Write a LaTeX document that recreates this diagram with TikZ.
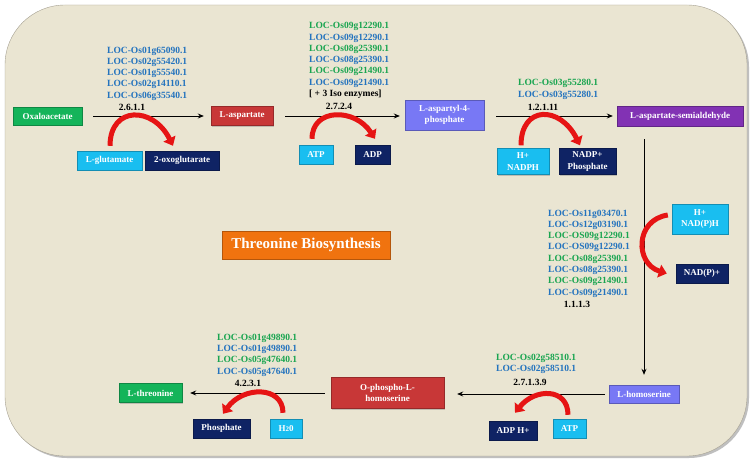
\documentclass[tikz,border=0pt]{standalone}
\usepackage{fontspec}
\setmainfont{Liberation Serif}
\usetikzlibrary{arrows.meta,shadows}

\definecolor{bgbeige}{RGB}{234,229,210}
\definecolor{bgedge}{RGB}{165,160,145}
\definecolor{locgreen}{RGB}{25,165,80}
\definecolor{locblue}{RGB}{35,115,190}
\definecolor{cgreen}{RGB}{20,180,90}
\definecolor{cred}{RGB}{200,55,55}
\definecolor{ccyan}{RGB}{25,190,240}
\definecolor{cnavy}{RGB}{15,35,100}
\definecolor{cperi}{RGB}{120,120,245}
\definecolor{cpurple}{RGB}{130,50,180}
\definecolor{corange}{RGB}{240,115,15}
\definecolor{carc}{RGB}{230,20,20}

\newcommand{\locg}[1]{\textcolor{locgreen}{#1}}
\newcommand{\locb}[1]{\textcolor{locblue}{#1}}
\newcommand{\locfont}{\fontsize{9.5}{11.3}\selectfont\bfseries}
\newcommand{\boxfont}{\fontsize{9}{11.5}\selectfont\bfseries}

\tikzset{
    metab/.style={rectangle, draw=#1!75!black, fill=#1, text=white, font=\boxfont,
        align=center, inner sep=1pt,
        drop shadow={shadow xshift=1pt, shadow yshift=-1.2pt, opacity=.4}},
    loclist/.style={font=\locfont, align=left, inner sep=0pt, anchor=west},
    ecnum/.style={font=\locfont, inner sep=0pt},
    rxn/.style={-{Stealth[length=6pt,width=5pt]}, line width=0.9pt},
    cofarc/.style={carc, line width=5pt, -{Triangle[width=13pt,length=8pt]}},
}

\begin{document}
\begin{tikzpicture}[x=1pt, y=-1pt]
    \useasboundingbox (0,0) rectangle (750,462);
    \fill[white] (0,0) rectangle (750,462);
    \fill[black!25, rounded corners=60pt] (7,7) rectangle (749,458);
    \fill[bgbeige, draw=bgedge, rounded corners=60pt] (5,5) rectangle (747,456);

    \node[metab=cgreen,  minimum width=69pt,  minimum height=18pt] (oxa)    at (47.5,116)  {Oxaloacetate};
    \node[metab=cred,    minimum width=62pt,  minimum height=19pt] (asp)    at (242,116)   {L-aspartate};
    \node[metab=ccyan,   minimum width=65pt,  minimum height=19pt] (glu)    at (109.5,160.5) {L-glutamate};
    \node[metab=cnavy,   minimum width=74pt,  minimum height=19pt] (oxo)    at (182,160.5) {2-oxoglutarate};
    \node[metab=ccyan,   minimum width=34pt,  minimum height=19pt] (atpa)   at (316,154.5) {ATP};
    \node[metab=cnavy,   minimum width=35pt,  minimum height=19pt] (adpa)   at (372.5,154.5) {ADP};
    \node[metab=cperi,   minimum width=79pt,  minimum height=30pt] (aspp)   at (444.5,115) {L-aspartyl-4-\\phosphate};
    \node[metab=cpurple, minimum width=126pt, minimum height=20pt] (sem)    at (680,116)   {L-aspartate-semialdehyde};
    \node[metab=ccyan,   minimum width=52pt,  minimum height=26pt] (nadph)  at (523,161.5) {H+\\NADPH};
    \node[metab=cnavy,   minimum width=57pt,  minimum height=26pt] (nadpp)  at (587.5,161.5) {NADP+\\Phosphate};
    \node[metab=ccyan,   minimum width=56pt,  minimum height=30pt] (nadh)   at (700,219)   {H+\\NAD(P)H};
    \node[metab=cnavy,   minimum width=52pt,  minimum height=19pt] (nadp)   at (702,273.5) {NAD(P)+};
    \node[metab=cperi,   minimum width=70pt,  minimum height=18pt] (hom)    at (644,394)   {L-homoserine};
    \node[metab=cnavy,   minimum width=48pt,  minimum height=19pt] (adph)   at (513,430.5) {ADP H+};
    \node[metab=ccyan,   minimum width=33pt,  minimum height=19pt] (atpb)   at (569.5,428.5) {ATP};
    \node[metab=cred,    minimum width=113pt, minimum height=31pt] (ophos)  at (387.5,393) {O-phospho-L-\\homoserine};
    \node[metab=cgreen,  minimum width=63pt,  minimum height=19pt] (thr)    at (150.5,393) {L-threonine};
    \node[metab=cnavy,   minimum width=57pt,  minimum height=19pt] (pho)    at (221.5,428.5) {Phosphate};
    \node[metab=ccyan,   minimum width=32pt,  minimum height=19pt] (water)  at (286,428.5) {H{\fontsize{7}{7}\selectfont 2}0};
    \node[metab=corange, minimum width=168pt, minimum height=28pt,
          font=\fontsize{15}{17}\selectfont\bfseries] (title) at (306,245) {Threonine Biosynthesis};

    \node[loclist] (loca) at (107,73.5) {\locb{LOC-Os01g65090.1}\\\locb{LOC-Os02g55420.1}\\\locb{LOC-Os01g55540.1}\\\locb{LOC-Os02g14110.1}\\\locb{LOC-Os06g35540.1}};
    \node[ecnum] (eca) at (132,107) {2.6.1.1};
    \node[loclist] (locb) at (309,60.5) {\locg{LOC-Os09g12290.1}\\\locb{LOC-Os09g12290.1}\\\locg{LOC-Os08g25390.1}\\\locb{LOC-Os08g25390.1}\\\locg{LOC-Os09g21490.1}\\\locb{LOC-Os09g21490.1}\\{[ + 3 Iso enzymes]}};
    \node[ecnum] (ecb) at (339,106) {2.7.2.4};
    \node[loclist] (locc) at (518,89.5) {\locg{LOC-Os03g55280.1}\\\locb{LOC-Os03g55280.1}};
    \node[ecnum] (ecc) at (543,107) {1.2.1.11};
    \node[loclist] (locd) at (548,253.5) {\locb{LOC-Os11g03470.1}\\\locb{LOC-Os12g03190.1}\\\locg{LOC-OS09g12290.1}\\\locb{LOC-OS09g12290.1}\\\locg{LOC-Os08g25390.1}\\\locb{LOC-Os08g25390.1}\\\locg{LOC-Os09g21490.1}\\\locb{LOC-Os09g21490.1}};
    \node[ecnum] (ecd) at (577,304) {1.1.1.3};
    \node[loclist] (loce) at (496,364) {\locg{LOC-Os02g58510.1}\\\locb{LOC-Os02g58510.1}};
    \node[ecnum] (ece) at (530,382) {2.7.1.3.9};
    \node[loclist] (locf) at (217,355) {\locg{LOC-Os01g49890.1}\\\locb{LOC-Os01g49890.1}\\\locg{LOC-Os05g47640.1}\\\locb{LOC-Os05g47640.1}};
    \node[ecnum] (ecf) at (248,383) {4.2.3.1};

    \draw[rxn, shorten <=11pt, shorten >=7pt] (oxa.east) -- (asp.west);
    \draw[rxn, shorten <=12pt, shorten >=5pt] (asp.east) -- (asp.east -| aspp.west);
    \draw[rxn, shorten <=12pt, shorten >=4pt] (aspp.east |- sem.west) -- (sem.west);
    \draw[rxn, shorten <=13pt, shorten >=10pt] (sem.south -| hom.north) -- (hom.north);
    \draw[rxn, shorten <=4pt, shorten >=13pt] (hom.west) -- (hom.west -| ophos.east);
    \draw[rxn, shorten <=6pt, shorten >=8pt] (ophos.west) -- (thr.east);

    \draw[cofarc] ([xshift=0.5pt,yshift=5pt]glu.north) .. controls +(0,-40) and +(-20,-40) .. ([xshift=-9pt,yshift=5pt]oxo.north);
    \draw[cofarc] ([xshift=-4pt,yshift=6pt]atpa.north) .. controls +(0,-31) and +(-20,-31) .. ([xshift=2.5pt,yshift=6pt]adpa.north);
    \draw[cofarc] ([xshift=-2pt,yshift=3pt]nadph.north) .. controls +(0,-40) and +(-20,-40) .. ([xshift=-7.5pt,yshift=3pt]nadpp.north);
    \draw[cofarc] ([xshift=-4pt,yshift=4pt]nadh.west) .. controls +(-33,5) and +(-32,-10) .. ([xshift=-9pt]nadp.west);
    \draw[cofarc] ([xshift=-1.5pt,yshift=4pt]atpb.north) .. controls +(0,-27) and +(20,-25) .. ([xshift=2pt,yshift=8pt]adph.north);
    \draw[cofarc] ([xshift=-3pt,yshift=6pt]water.north) .. controls +(0,-27) and +(20,-28) .. ([xshift=1.5pt,yshift=5pt]pho.north);
\end{tikzpicture}
\end{document}
